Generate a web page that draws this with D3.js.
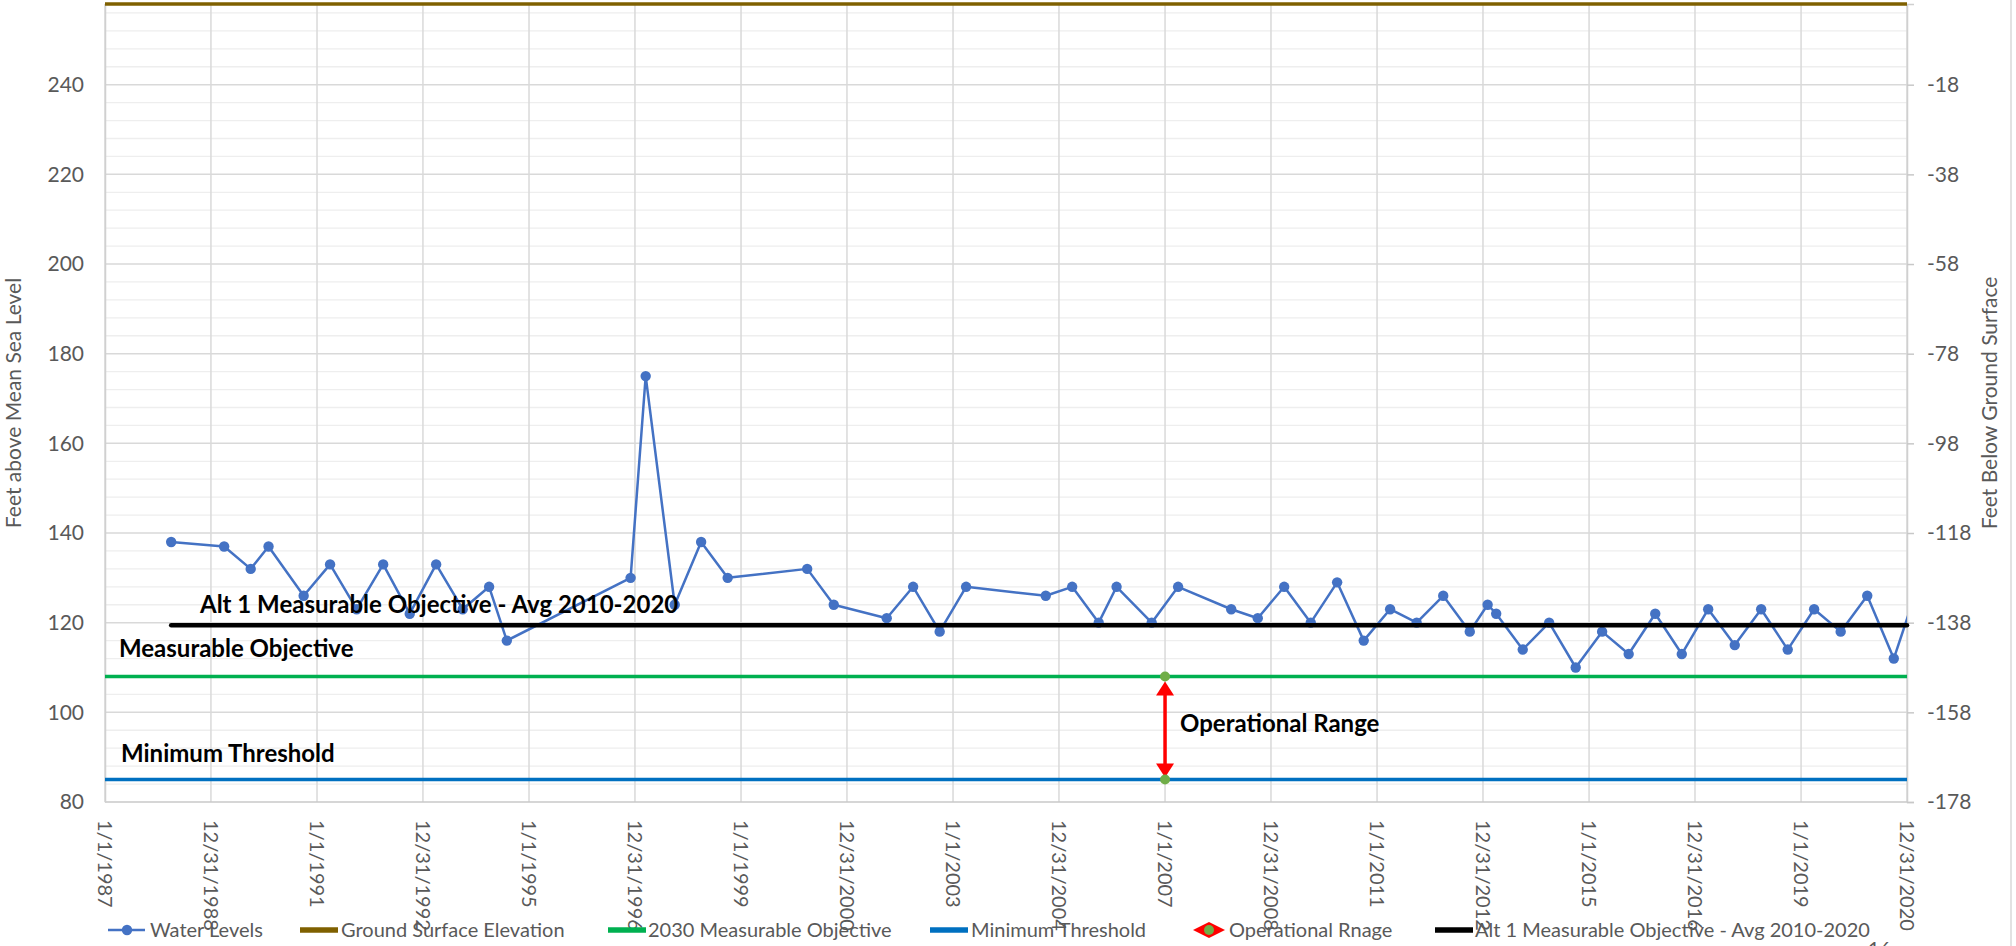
<!DOCTYPE html>
<html>
<head>
<meta charset="utf-8">
<script src="https://cdn.jsdelivr.net/npm/d3@7"></script>
<style>
  html, body { margin: 0; padding: 0; background: #ffffff; }
  svg { display: block; font-family: Lato, "Open Sans", sans-serif; }
</style>
</head>
<body>
<svg id="chart" width="2016" height="946"></svg>
<script>
// ---------------- DATA ----------------
const xTickLabels = ["1/1/1987","12/31/1988","1/1/1991","12/31/1992","1/1/1995","12/31/1996",
  "1/1/1999","12/31/2000","1/1/2003","12/31/2004","1/1/2007","12/31/2008","1/1/2011",
  "12/31/2012","1/1/2015","12/31/2016","1/1/2019","12/31/2020"];
const leftTicks = [80, 100, 120, 140, 160, 180, 200, 220, 240];
const rightTicks = [-178, -158, -138, -118, -98, -78, -58, -38, -18];

const waterDates = ["4/1/1988","4/1/1989","10/1/1989","2/1/1990","10/1/1990","4/1/1991","10/1/1991",
  "4/1/1992","10/1/1992","4/1/1993","10/1/1993","4/1/1994","8/1/1994","12/1/1996","3/15/1997",
  "10/1/1997","4/1/1998","10/1/1998","4/1/2000","10/1/2000","10/1/2001","4/1/2002","10/1/2002",
  "4/1/2003","10/1/2004","4/1/2005","10/1/2005","2/1/2006","10/1/2006","4/1/2007","4/1/2008",
  "10/1/2008","4/1/2009","10/1/2009","4/1/2010","10/1/2010","4/1/2011","10/1/2011","4/1/2012",
  "10/1/2012","2/1/2013","4/1/2013","10/1/2013","4/1/2014","10/1/2014","4/1/2015","10/1/2015",
  "4/1/2016","10/1/2016","4/1/2017","10/1/2017","4/1/2018","10/1/2018","4/1/2019","10/1/2019",
  "4/1/2020","10/1/2020","3/15/2021"];
const waterLevels = [138,137,132,137,126,133,123,
  133,122,133,123,128,116,130,175,
  124,138,130,132,124,121,128,118,
  128,126,128,120,128,120,128,123,
  121,128,120,129,116,123,120,126,
  118,124,122,114,120,110,118,113,
  122,113,123,115,123,114,123,118,
  126,112,128];

const groundSurfaceElevation = 258;
const measurableObjective2030 = 108;
const minimumThreshold = 85;
const alt1Objective = 119.4;
const operationalRangeDate = "1/1/2007";
const operationalRange = [measurableObjective2030, minimumThreshold];

const legendItems = ["Water Levels", "Ground Surface Elevation", "2030 Measurable Objective",
  "Minimum Threshold", "Operational Rnage", "Alt 1 Measurable Objective - Avg 2010-2020"];

// ---------------- SETUP ----------------
const parse = d3.timeParse("%m/%d/%Y");
const svg = d3.select("#chart");
const L = 105, R = 1907, T = 4, B = 802;

const x = d3.scaleTime().domain([parse("1/1/1987"), parse("12/31/2020")]).range([L, R]);
const y = d3.scaleLinear().domain([80, groundSurfaceElevation]).range([B, T]);
const y2 = d3.scaleLinear().domain([80 - groundSurfaceElevation, 0]).range([B, T]);

const colors = {
  water: "#4472C4", ground: "#7F6000", green: "#00B050", blue: "#0070C0",
  black: "#000000", red: "#FF0000", opDot: "#70AD47", text: "#595959"
};

svg.append("rect").attr("width", 2016).attr("height", 946).attr("fill", "#fff");

// minor horizontal gridlines every 4
const minor = d3.range(84, groundSurfaceElevation, 4).filter(v => v % 20 !== 0);
svg.append("g").selectAll("line").data(minor).join("line")
  .attr("x1", L).attr("x2", R).attr("y1", d => y(d)).attr("y2", d => y(d))
  .attr("stroke", "#eeeeee").attr("stroke-width", 1.3);

// major horizontal gridlines
svg.append("g").selectAll("line").data(leftTicks.filter(v => v !== 80)).join("line")
  .attr("x1", L).attr("x2", R).attr("y1", d => y(d)).attr("y2", d => y(d))
  .attr("stroke", "#d9d9d9").attr("stroke-width", 1.5);

// vertical gridlines
svg.append("g").selectAll("line").data(xTickLabels).join("line")
  .attr("x1", d => x(parse(d))).attr("x2", d => x(parse(d)))
  .attr("y1", T).attr("y2", B)
  .attr("stroke", "#d9d9d9").attr("stroke-width", 1.5);

// bottom axis line
svg.append("line").attr("x1", L).attr("x2", R).attr("y1", B).attr("y2", B)
  .attr("stroke", "#c8c8c8").attr("stroke-width", 1.5);

// left axis (labels only)
const leftAxis = d3.axisLeft(y).tickValues(leftTicks).tickSize(0).tickPadding(21)
  .tickFormat(d => String(d));
const gl = svg.append("g").attr("transform", `translate(${L},0)`).call(leftAxis);
gl.select(".domain").attr("stroke", "#d0d0d0").attr("stroke-width", 1.5);
gl.selectAll("text").attr("font-size", 21).attr("fill", colors.text).attr("font-family", "Lato");

// right axis
const rightAxis = d3.axisRight(y2).tickValues(rightTicks).tickSize(7).tickPadding(13)
  .tickFormat(d => String(d));
const gr = svg.append("g").attr("transform", `translate(${R},0)`).call(rightAxis);
gr.select(".domain").attr("stroke", "#d0d0d0").attr("stroke-width", 1.5);
gr.selectAll(".tick line").attr("stroke", "#c8c8c8").attr("stroke-width", 1.5);
gr.selectAll("text").attr("font-size", 21).attr("fill", colors.text).attr("font-family", "Lato");

// x tick labels rotated
svg.append("g").selectAll("text").data(xTickLabels).join("text")
  .attr("transform", d => `translate(${x(parse(d))},${B + 18}) rotate(90)`)
  .attr("dy", "0.35em").attr("text-anchor", "start")
  .attr("font-size", 20).attr("fill", colors.text).text(d => d);

// axis titles
svg.append("text").attr("transform", `translate(21,${(T + B) / 2}) rotate(-90)`)
  .attr("text-anchor", "middle").attr("font-size", 21).attr("fill", colors.text)
  .text("Feet above Mean Sea Level");
svg.append("text").attr("transform", `translate(1997,${(T + B) / 2}) rotate(-90)`)
  .attr("text-anchor", "middle").attr("font-size", 21).attr("fill", colors.text)
  .text("Feet Below Ground Surface");

// chart border at right
svg.append("line").attr("x1", 2011).attr("x2", 2011).attr("y1", 0).attr("y2", 946)
  .attr("stroke", "#d9d9d9").attr("stroke-width", 1.5);

// ---------------- SERIES ----------------
const hline = (val, color, w, x0, x1) => svg.append("line")
  .attr("x1", x0).attr("x2", x1).attr("y1", y(val)).attr("y2", y(val))
  .attr("stroke", color).attr("stroke-width", w);

hline(groundSurfaceElevation, colors.ground, 3.5, L, R);
hline(measurableObjective2030, colors.green, 3.5, L, R);
hline(minimumThreshold, colors.blue, 3.5, L, R);

// clip
svg.append("clipPath").attr("id", "plotclip").append("rect")
  .attr("x", L).attr("y", 0).attr("width", R - L).attr("height", B);

// water levels
const wdata = waterDates.map((d, i) => ({ date: parse(d), v: waterLevels[i] }));
const g = svg.append("g").attr("clip-path", "url(#plotclip)");
g.append("path").datum(wdata)
  .attr("d", d3.line().x(d => x(d.date)).y(d => y(d.v)))
  .attr("fill", "none").attr("stroke", colors.water).attr("stroke-width", 2.5)
  .attr("stroke-linejoin", "round");
g.selectAll("circle").data(wdata).join("circle")
  .attr("cx", d => x(d.date)).attr("cy", d => y(d.v)).attr("r", 5.2)
  .attr("fill", colors.water);

// alt 1 objective line (from first measurement to end)
svg.append("line")
  .attr("x1", x(wdata[0].date)).attr("x2", R)
  .attr("y1", y(alt1Objective)).attr("y2", y(alt1Objective))
  .attr("stroke", colors.black).attr("stroke-width", 4.5).attr("stroke-linecap", "round");

// operational range arrow
const ox = x(parse(operationalRangeDate));
const yTop = y(operationalRange[0]), yBot = y(operationalRange[1]);
svg.append("line").attr("x1", ox).attr("x2", ox).attr("y1", yTop + 12).attr("y2", yBot - 12)
  .attr("stroke", colors.red).attr("stroke-width", 3.5);
const aw = 9, ah = 14;
svg.append("path")
  .attr("d", `M${ox},${yTop + 5} L${ox - aw},${yTop + 5 + ah} L${ox + aw},${yTop + 5 + ah} Z`)
  .attr("fill", colors.red);
svg.append("path")
  .attr("d", `M${ox},${yBot - 2} L${ox - aw},${yBot - 2 - ah} L${ox + aw},${yBot - 2 - ah} Z`)
  .attr("fill", colors.red);
svg.append("g").selectAll("circle").data(operationalRange).join("circle")
  .attr("cx", ox).attr("cy", d => y(d)).attr("r", 5).attr("fill", colors.opDot);

// ---------------- ANNOTATIONS ----------------
const ann = (txt, xx, yy) => svg.append("text").attr("x", xx).attr("y", yy)
  .attr("font-size", 24).attr("font-weight", 700).attr("fill", "#000").text(txt);
ann("Alt 1 Measurable Objective - Avg 2010-2020", 200, 613);
ann("Measurable Objective", 119, 657);
ann("Minimum Threshold", 121, 762);
ann("Operational Range", 1180, 732);

// ---------------- LEGEND ----------------
const ly = 930;
const lg = svg.append("g").attr("font-size", 20).attr("fill", colors.text);
const swatchX = [108, 300, 608, 930, 1194, 1435];
const textX = [150, 341, 648, 971, 1229, 1475];
// water
lg.append("line").attr("x1", swatchX[0]).attr("x2", swatchX[0] + 37).attr("y1", ly).attr("y2", ly)
  .attr("stroke", colors.water).attr("stroke-width", 2.5);
lg.append("circle").attr("cx", swatchX[0] + 19).attr("cy", ly).attr("r", 5.2).attr("fill", colors.water);
const swatchColors = [null, colors.ground, colors.green, colors.blue, null, colors.black];
[1, 2, 3, 5].forEach(i => {
  lg.append("line").attr("x1", swatchX[i]).attr("x2", swatchX[i] + 38).attr("y1", ly).attr("y2", ly)
    .attr("stroke", swatchColors[i]).attr("stroke-width", 5.5);
});
// operational range marker
const dx = swatchX[4] + 15;
lg.append("path").attr("d", `M${dx - 16},${ly} L${dx},${ly - 8} L${dx + 16},${ly} L${dx},${ly + 8} Z`)
  .attr("fill", colors.red);
lg.append("circle").attr("cx", dx).attr("cy", ly).attr("r", 5).attr("fill", colors.opDot);
lg.selectAll("text").data(legendItems).join("text")
  .attr("x", (d, i) => textX[i]).attr("y", ly).attr("dy", "0.35em").text(d => d);

// page number (cut at bottom edge, as in the source)
svg.append("text").attr("x", 1868).attr("y", 956).attr("font-size", 20)
  .attr("fill", colors.text).text("16");
</script>
</body>
</html>
